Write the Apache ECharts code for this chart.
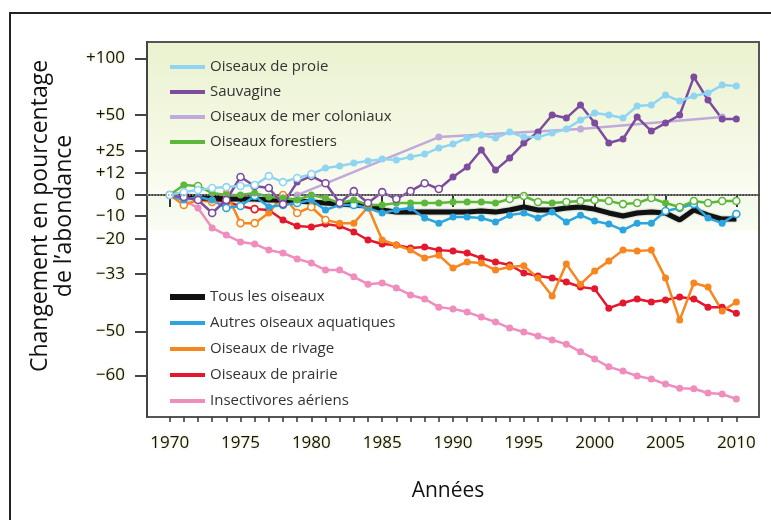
<!DOCTYPE html>
<html>
<head>
<meta charset="utf-8">
<title>Changement en pourcentage de l'abondance</title>
<script src="https://cdn.jsdelivr.net/npm/echarts@6/dist/echarts.min.js"></script>
<style>
  html, body { margin: 0; padding: 0; background: #fff; }
  #main { width: 771px; height: 520px; }
</style>
</head>
<body>
<div id="main"></div>
<script>
// années 1970 -> 2010
var years = [];
for (var yr = 1970; yr <= 2010; yr++) years.push(yr);

// graduations (en % de changement)
var yTickPcts = [100, 50, 25, 12, 0, -10, -20, -33, -50, -60];
var yTickLabels = ['+100', '+50', '+25', '+12', '0', '\u221210', '\u221220', '\u221233', '\u221250', '\u221260'];
var xTickLabels = [1970, 1975, 1980, 1985, 1990, 1995, 2000, 2005, 2010];

// séries (changement en % depuis 1970)
var proie = [0, 1.5, 2.6, 3.6, 4.1, 4.7, 5.2, 10.1, 6.8, 9, 11.2, 14.7, 15.9, 17.6, 18.8, 20, 19.4, 21.3, 23.1, 27, 29.5,
  33.6, 35.6, 33.6, 37.7, 34.2, 34.2, 37, 39.8, 46.3, 51.6, 50.1, 47.8, 57.1, 57.9, 66.1, 61.2, 65.3, 67.8, 74.8, 73.9];
var sauvagine = [0, -1, -2.5, -8.7, -2.5, 9.6, 4.7, 3.6, -4.5, 6.8, 10.1, 6.2, -4, 2, -4, 1.5, -2, 2, 6.2, 3.1, 9.6,
  15.3, 25.7, 13.5, 20.7, 30.2, 37.7, 50.1, 47.8, 57.9, 44.1, 30.2, 32.9, 48.6, 38.4, 44.1, 50.1, 82, 62, 47.1, 47.1];
var merYears = [1979, 1989, 1999, 2009];
var merColoniaux = [0, 34.2, 39.8, 48.6];
var forestiers = [0, 5.2, 4.7, 1, 0, 0, 1, -1, -1.5, -2.5, 0, -1.5, -4, -2.5, -4.9, -4.9, -4, -4, -4, -4, -3.5,
  -3.5, -3.5, -4, -2, -0.5, -3.5, -4, -3.5, -3, -2.5, -3, -4.5, -4, -1.5, -4, -5.9, -3, -4, -3, -3];
var tous = [0, -0.5, -1.5, -1.5, -2, -2, -2, -2.5, -2.5, -3, -3.5, -4, -4.5, -4.9, -5.4, -7.3, -8.3, -8.3, -8.3, -8.3, -8.3,
  -8.3, -7.8, -8.3, -7.3, -5.9, -7.3, -7.3, -6.4, -5.9, -6.9, -8.7, -10.1, -8.7, -8.3, -8.7, -11.9, -7.3, -9.7, -11.5, -11.5];
var aquatiques = [0, -2.5, -1, -2.5, -6.4, -5.4, -0.5, -5.9, -4.9, -4, -2.5, -7.3, -4.9, -4.9, -6.4, -8.7, -7.3, -6.4, -11, -13.3, -10.6,
  -10.6, -11, -12.8, -9.7, -8.7, -11, -8.3, -12.8, -9.7, -12.4, -13.7, -16.3, -13.3, -13.3, -7.8, -6.4, -4.5, -11, -13.3, -9.2];
var rivage = [0, -4.9, -2.5, -3.5, 1, -13.3, -13.3, -8.7, 0, -8.7, -5.9, -11.9, -13.3, -13.3, -5.9, -20.4, -22.4, -24.4, -27.4, -26.3, -31,
  -28.8, -29.2, -31.7, -30.6, -30.2, -34.4, -40.1, -29.5, -36.4, -32, -28.5, -24.4, -24.7, -24.4, -34.4, -47, -36, -37.3, -44.5, -41.9];
var prairie = [0, 1, -2, -2.5, -3.5, -5.4, -6.9, -7.3, -11.9, -14.6, -15, -13.7, -14.6, -17.1, -20.4, -22, -22.4, -23.6, -23.2, -24.4, -24.7,
  -25.5, -27.4, -28.8, -29.9, -32.7, -33.7, -34.4, -35.7, -37.3, -37.9, -43.7, -42.2, -41, -41.9, -41.3, -40.4, -41, -43.4, -43.4, -45.1];
var insectivores = [0, -2.5, -6.4, -15.4, -18.4, -21.2, -22, -24.4, -25.5, -27.7, -29.2, -31.7, -31.7, -34, -36.4, -36, -37.6, -39.8, -41, -43.4, -43.9,
  -44.8, -46.2, -47.5, -49.1, -50.1, -51.1, -52.1, -53.1, -54.9, -56.5, -58.2, -59.1, -60.1, -60.7, -61.7, -62.5, -62.6, -63.4, -63.6, -64.5];

// années où la tendance n'est pas significative (cercle vide)
var proieOpen = [1970, 1971, 1972, 1973, 1974, 1975, 1976, 1977, 1978, 1979, 1980];
var sauvagineOpen = [1970, 1971, 1972, 1973, 1974, 1975, 1976, 1977, 1978, 1980, 1981, 1982, 1983, 1984, 1985, 1986, 1987, 1988, 1989];
var forestiersOpen = [1972, 1994, 1995, 1996, 1998, 1999, 2000, 2001, 2002, 2003, 2004, 2006, 2007, 2008, 2009, 2010];
var aquatiquesOpen = [1974, 1975, 1976, 1978, 1979, 1983, 2005, 2006, 2007, 2010];
var rivageOpen = [1971, 1973, 1975, 1976, 1978, 1979, 1980, 1981, 1984];
var prairieOpen = [1976];

function toY(p) { return Math.log(1 + p / 100); }

function buildData(xs, vals, open, color) {
  return vals.map(function (v, i) {
    var item = { value: [xs[i], toY(v)] };
    if (open && open.indexOf(xs[i]) >= 0) {
      item.itemStyle = { color: '#ffffff', borderColor: color, borderWidth: 1.6 };
    }
    return item;
  });
}

function lineSeries(name, color, xs, vals, open, width) {
  return {
    name: name,
    type: 'line',
    data: buildData(xs, vals, open, color),
    symbol: 'circle',
    symbolSize: 7,
    showAllSymbol: true,
    lineStyle: { color: color, width: width || 2.5 },
    itemStyle: { color: color },
    emphasis: { disabled: true }
  };
}

var C = {
  proie: '#8fd5f2', sauv: '#7d4c9e', mer: '#bfaadb', forest: '#5cb83a',
  tous: '#111111', aqua: '#2ca4df', rivage: '#f7861f', prairie: '#e3182d', insect: '#ef8dbd'
};

var mer = lineSeries('Oiseaux de mer coloniaux', C.mer, merYears, merColoniaux, null, 2.5);
mer.markLine = {
  silent: true, symbol: 'none', label: { show: false },
  lineStyle: { type: 'dotted', color: '#999', width: 1.5 },
  data: [{ yAxis: 0 }]
};

var tousS = lineSeries('Tous les oiseaux', C.tous, years, tous, null, 5);
tousS.symbol = 'none';
tousS.lineStyle.shadowColor = 'rgba(0,0,0,0.45)';
tousS.lineStyle.shadowBlur = 2;

var series = [
  mer,
  lineSeries('Insectivores aériens', C.insect, years, insectivores, null),
  lineSeries('Oiseaux de prairie', C.prairie, years, prairie, prairieOpen),
  lineSeries('Oiseaux de rivage', C.rivage, years, rivage, rivageOpen),
  tousS,
  lineSeries('Autres oiseaux aquatiques', C.aqua, years, aquatiques, aquatiquesOpen),
  lineSeries('Oiseaux forestiers', C.forest, years, forestiers, forestiersOpen),
  lineSeries('Sauvagine', C.sauv, years, sauvagine, sauvagineOpen),
  lineSeries('Oiseaux de proie', C.proie, years, proie, proieOpen)
];

var labelFont = {
  fontFamily: 'Open Sans', fontSize: 17, color: '#151515',
  textShadowColor: 'rgba(225,225,140,0.9)', textShadowBlur: 3
};
var legendText = { fontFamily: 'Open Sans', fontSize: 15, color: '#333', lineHeight: 18 };

var myChart = echarts.init(document.getElementById('main'));
myChart.setOption({
  animation: false,
  backgroundColor: '#ffffff',
  grid: {
    left: 147, top: 42, right: 12, bottom: 103,
    show: true,
    borderColor: '#555', borderWidth: 2,
    backgroundColor: new echarts.graphic.LinearGradient(0, 0, 0, 1, [
      { offset: 0, color: '#eaf2cf' },
      { offset: 0.38, color: '#f9fbee' },
      { offset: 0.405, color: '#fcfdf6' },
      { offset: 0.41, color: '#f4f9ec' },
      { offset: 0.5, color: '#f8fcf3' },
      { offset: 0.505, color: '#ffffff' },
      { offset: 1, color: '#ffffff' }
    ])
  },
  legend: [
    {
      orient: 'vertical', left: 165, top: 53, itemGap: 7,
      itemWidth: 35, itemHeight: 4, icon: 'rect', textStyle: legendText,
      data: ['Oiseaux de proie', 'Sauvagine', 'Oiseaux de mer coloniaux', 'Oiseaux forestiers']
    },
    {
      orient: 'vertical', left: 165, top: 283, itemGap: 8,
      itemWidth: 35, itemHeight: 6, icon: 'rect', textStyle: legendText,
      data: ['Tous les oiseaux']
    },
    {
      orient: 'vertical', left: 165, top: 309, itemGap: 8,
      itemWidth: 35, itemHeight: 4, icon: 'rect', textStyle: legendText,
      data: ['Autres oiseaux aquatiques', 'Oiseaux de rivage', 'Oiseaux de prairie', 'Insectivores aériens']
    }
  ],
  xAxis: [
    {
      type: 'value', min: 1968.4, max: 2011.6,
      axisLine: { show: true, lineStyle: { color: '#444', width: 2 } },
      axisTick: { show: true, customValues: xTickLabels, length: 12, lineStyle: { color: '#333', width: 2 } },
      axisLabel: Object.assign({ customValues: xTickLabels, margin: 18, formatter: function (v) { return String(v); } }, labelFont),
      splitLine: { show: false }
    },
    {
      type: 'value', min: 1968.4, max: 2011.6, position: 'bottom',
      axisLine: { show: false },
      axisTick: { show: true, customValues: years, length: 5, lineStyle: { color: '#333', width: 1.5 } },
      axisLabel: { show: false },
      splitLine: { show: false }
    }
  ],
  yAxis: {
    type: 'value', min: -1.127, max: 0.777,
    axisLine: { show: true, lineStyle: { color: '#444', width: 2 } },
    axisTick: { show: true, customValues: yTickPcts.map(toY), length: 12, lineStyle: { color: '#444', width: 2 } },
    axisLabel: Object.assign({
      customValues: yTickPcts.map(toY), margin: 22,
      formatter: function (v) {
        for (var i = 0; i < yTickPcts.length; i++) {
          if (Math.abs(toY(yTickPcts[i]) - v) < 1e-6) return yTickLabels[i];
        }
        return '';
      }
    }, labelFont),
    splitLine: { show: false }
  },
  graphic: [
    {
      type: 'rect', silent: true, z: -10,
      shape: { x: 10, y: 13, width: 800, height: 600 },
      style: { fill: 'none', stroke: '#222', lineWidth: 2 }
    },
    {
      type: 'text', x: 52, y: 216, rotation: Math.PI / 2, silent: true,
      style: {
        text: 'Changement en pourcentage\nde l\u2019abondance',
        fontFamily: 'Open Sans', fontSize: 23, lineHeight: 24, fill: '#111',
        align: 'center', verticalAlign: 'middle'
      }
    },
    {
      type: 'text', x: 448, y: 491, silent: true,
      style: {
        text: 'Années', fontFamily: 'Open Sans', fontSize: 21, fill: '#111',
        align: 'center', verticalAlign: 'middle'
      }
    }
  ],
  series: series
});
</script>
</body>
</html>
